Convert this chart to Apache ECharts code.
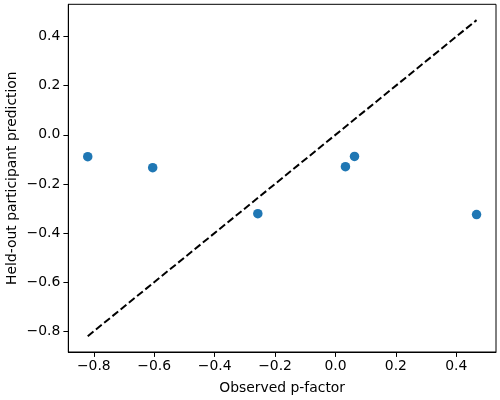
<!DOCTYPE html>
<html>
<head>
<meta charset="utf-8">
<script src="https://cdn.jsdelivr.net/npm/echarts@6/dist/echarts.min.js"></script>
<style>html,body{margin:0;padding:0;background:#fff}#c{width:500px;height:400px}</style>
</head>
<body>
<div id="c"></div>
<script>
const observed = [-0.820, -0.605, 0.063, 0.033, -0.257, 0.467];
const predicted = [-0.089, -0.134, -0.088, -0.130, -0.321, -0.325];
const xTicks = [-0.8, -0.6, -0.4, -0.2, 0.0, 0.2, 0.4];
const yTicks = [-0.8, -0.6, -0.4, -0.2, 0.0, 0.2, 0.4];
const xLabel = 'Observed p-factor';
const yLabel = 'Held-out participant prediction';

const all = observed.concat(predicted);
const lo = Math.min(...all), hi = Math.max(...all);
const pad = (hi - lo) * 0.05;
const identity = [[lo, lo], [hi, hi]];
const fmt = v => v.toFixed(1).replace('-', '\u2212');
const font = 'DejaVu Sans';

const chart = echarts.init(document.getElementById('c'), null, {renderer: 'canvas'});
function axis(ticks, name, isY) {
  return {
    type: 'value',
    min: lo - pad, max: hi + pad,
    name: name,
    nameLocation: 'middle',
    nameGap: isY ? 49 : 29,
    nameMoveOverlap: false,
    nameTextStyle: {fontFamily: font, fontSize: 13.9, color: '#000'},
    axisLine: {show: true, onZero: false, lineStyle: {color: '#000', width: 1}},
    axisTick: {show: true, length: 4.9, lineStyle: {color: '#000', width: 1}, customValues: ticks},
    axisLabel: {show: true, margin: isY ? 8 : 7, fontFamily: font, fontSize: 13.9, color: '#000',
      customValues: ticks, formatter: fmt},
    splitLine: {show: false}
  };
}
chart.setOption({
  animation: false,
  grid: {left: 68.3, right: 4, top: 4.3, bottom: 48, show: true, borderColor: '#000', borderWidth: 1,
    containLabel: false, outerBoundsMode: 'none'},
  xAxis: axis(xTicks, xLabel, false),
  yAxis: axis(yTicks, yLabel, true),
  series: [
    {type: 'line', data: identity, symbol: 'none', z: 1,
      lineStyle: {color: '#000', width: 2, type: [7.4, 3.2]}},
    {type: 'scatter', data: observed.map((x, i) => [x, predicted[i]]), symbolSize: 9.5, z: 2,
      itemStyle: {color: '#1f77b4', opacity: 1}}
  ]
});
</script>
</body>
</html>
